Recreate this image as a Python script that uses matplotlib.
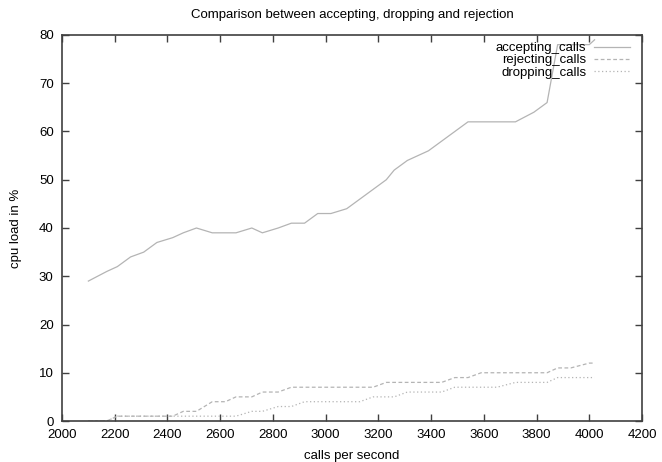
import matplotlib
matplotlib.use("Agg")
import matplotlib.pyplot as plt

# calls per second (x) and cpu load in % for each scenario
calls = [2100, 2170, 2210, 2260, 2310, 2360, 2420, 2460, 2510, 2570,
         2620, 2660, 2720, 2760, 2820, 2870, 2920, 2970, 3020, 3080,
         3130, 3180, 3230, 3260, 3310, 3350, 3390, 3440, 3490, 3540,
         3590, 3650, 3720, 3790, 3840, 3880, 3930, 4000, 4020]
accepting = [29, 31, 32, 34, 35, 37, 38, 39, 40, 39,
             39, 39, 40, 39, 40, 41, 41, 43, 43, 44,
             46, 48, 50, 52, 54, 55, 56, 58, 60, 62,
             62, 62, 62, 64, 66, 78, 78, 78, 79]
rejecting = [0, 0, 1, 1, 1, 1, 1, 2, 2, 4,
             4, 5, 5, 6, 6, 7, 7, 7, 7, 7,
             7, 7, 8, 8, 8, 8, 8, 8, 9, 9,
             10, 10, 10, 10, 10, 11, 11, 12, 12]
dropping = [0, 0, 1, 1, 1, 1, 1, 1, 1, 1,
            1, 1, 2, 2, 3, 3, 4, 4, 4, 4,
            4, 5, 5, 5, 6, 6, 6, 6, 7, 7,
            7, 7, 8, 8, 8, 9, 9, 9, 9]

plt.rcParams['font.family'] = ['Liberation Sans', 'DejaVu Sans']
plt.rcParams['font.size'] = 9.5

line_col = '#b4b4b4'
axis_col = '#404040'

fig = plt.figure(figsize=(6.62, 4.62), dpi=100)
ax = fig.add_axes([62 / 662, 1 - 421 / 462, 580 / 662, 386 / 462])

ax.plot(calls, accepting, color=line_col, lw=0.9, ls='-', label='accepting_calls')
ax.plot(calls, rejecting, color=line_col, lw=0.9, ls=(0, (3, 2)), label='rejecting_calls')
ax.plot(calls, dropping, color=line_col, lw=0.9, ls=(0, (1, 2)), label='dropping_calls')

ax.set_xlim(2000, 4200)
ax.set_ylim(0, 80)
ax.set_xticks(range(2000, 4201, 200))
ax.set_yticks(range(0, 81, 10))
ax.tick_params(direction='in', length=5, width=1, color=axis_col,
               top=True, right=True, labelsize=9.5, pad=6)
for s in ax.spines.values():
    s.set_color(axis_col)
    s.set_linewidth(1.2)

ax.set_title('Comparison between accepting, dropping and rejection',
             fontsize=9.5, pad=12)
ax.set_xlabel('calls per second', fontsize=9.5, labelpad=6)
ax.set_ylabel('cpu load in %', fontsize=9.5, labelpad=12)

# gnuplot-style key: text right-aligned, sample to the right
ax.legend(loc='upper right', bbox_to_anchor=(0.979, 0.982), frameon=False,
          markerfirst=False, handlelength=2.7, handletextpad=0.6,
          labelspacing=0.0, borderaxespad=0.0, borderpad=0.0, fontsize=9.5)

fig.savefig('out.png', dpi=100)
